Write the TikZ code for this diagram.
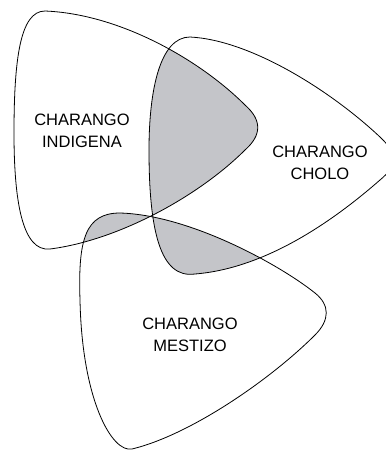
\documentclass[tikz,border=0pt]{standalone}
\usepackage{fontspec}
\setmainfont{Liberation Sans}
\definecolor{lapgray}{RGB}{196,197,201}
\begin{document}
\begin{tikzpicture}[x=1pt,y=-1pt,
  outline/.style={draw=black,line width=0.8pt},
  lbl/.style={align=center,font=\fontsize{16.5}{22.5}\selectfont,inner sep=0pt}]
\useasboundingbox (0,0) rectangle (386,451);
\clip (0,0) rectangle (386,451);
\def\shapeA{(14,133) .. controls (14,60) and (20,11) .. (45,11) .. controls (120,14) and (200,60) .. (245,105) .. controls (262,120) and (262,135) .. (245,150) .. controls (200,195) and (120,240) .. (50,249) .. controls (22,252) and (14,200) .. (14,133) -- cycle}
\def\shapeB{(149,150) .. controls (149,90) and (160,37) .. (190,37) .. controls (250,40) and (330,90) .. (380,137) .. controls (398,154) and (398,165) .. (380,180) .. controls (340,215) and (270,268) .. (195,274) .. controls (160,279) and (149,230) .. (149,150) -- cycle}
\def\shapeC{(80,300) .. controls (78,240) and (85,213) .. (120,213) .. controls (190,215) and (280,265) .. (315,293) .. controls (330,305) and (330,320) .. (315,335) .. controls (270,380) and (190,435) .. (132,449) .. controls (112,453) and (82,400) .. (80,300) -- cycle}
\begin{scope}\clip \shapeA; \fill[lapgray] \shapeB; \fill[lapgray] \shapeC;\end{scope}
\begin{scope}\clip \shapeB; \fill[lapgray] \shapeC;\end{scope}
\draw[outline] \shapeA;
\draw[outline] \shapeB;
\draw[outline] \shapeC;
\node[lbl] (ind) at (82,131) {CHARANGO\\INDIGENA};
\node[lbl] (cho) at (320,163) {CHARANGO\\CHOLO};
\node[lbl] (mes) at (190,335) {CHARANGO\\MESTIZO};
\end{tikzpicture}
\end{document}
